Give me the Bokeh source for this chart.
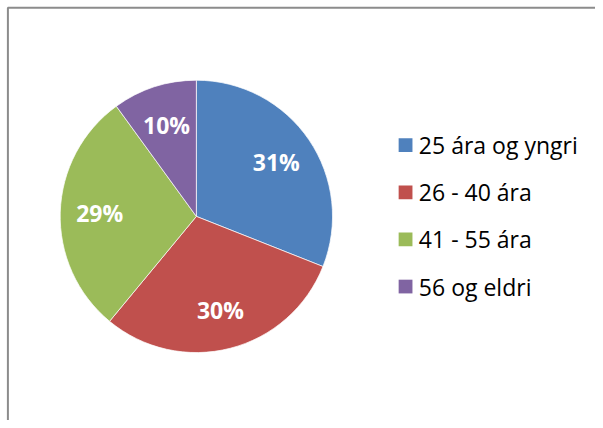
import math
from bokeh.plotting import figure
from bokeh.models import Range1d, ColumnDataSource
from bokeh.core.properties import value
from bokeh.embed import file_html
from bokeh.resources import INLINE

categories = ["25 ára og yngri", "26 - 40 ára", "41 - 55 ára", "56 og eldri"]
shares = [31, 30, 29, 10]
colors = ["#4F81BD", "#C0504D", "#9BBB59", "#8064A2"]

# work in reference-pixel coordinates (603 x 428), y measured from the bottom
RW, RH = 603, 428
W, H = 595, 420
p = figure(width=W, height=H, output_backend="svg", toolbar_location=None,
           x_range=Range1d(0, RW), y_range=Range1d(0, RH), min_border=0)
p.axis.visible = False
p.grid.visible = False
p.outline_line_color = None
p.background_fill_color = "white"
p.border_fill_color = "white"

# frame (top and left edges visible in reference)
p.line(x=[7.5, 7.5, RW], y=[0, RH - 7.5, RH - 7.5], line_color="#8C8C8C", line_width=2)

cx, cy, R = 198.5, RH - 220, 138
total = sum(shares)
starts, ends, lx, ly, labels = [], [], [], [], []
cum = 0
for s in shares:
    a0 = math.pi / 2 - 2 * math.pi * cum / total
    a1 = math.pi / 2 - 2 * math.pi * (cum + s) / total
    starts.append(a0)
    ends.append(a1)
    mid = (a0 + a1) / 2
    lx.append(cx + 0.71 * R * math.cos(mid))
    ly.append(cy + 0.71 * R * math.sin(mid))
    labels.append(f"{round(100 * s / total)}%")
    cum += s

src = ColumnDataSource(dict(start=starts, end=ends, color=colors))
p.wedge(x=cx, y=cy, radius=R, start_angle="start", end_angle="end",
        direction="clock", fill_color="color", line_color="white",
        line_width=0.7, source=src)

p.text(x=lx, y=ly, text=labels, text_color="white", text_font=value("Open Sans"),
       text_font_style="bold", text_font_size="23px", text_align="center",
       text_baseline="middle")

# legend
leg_y = [RH - 147.5 - i * 48 for i in range(len(categories))]
p.rect(x=[410.5] * len(categories), y=leg_y, width=14, height=14,
       fill_color=colors, line_color=None)
p.text(x=[424] * len(categories), y=leg_y, text=categories, text_color="black",
       text_font=value("Open Sans"), text_font_size="23px", text_align="left",
       text_baseline="middle")

open("out.html", "w").write(file_html(p, INLINE))
